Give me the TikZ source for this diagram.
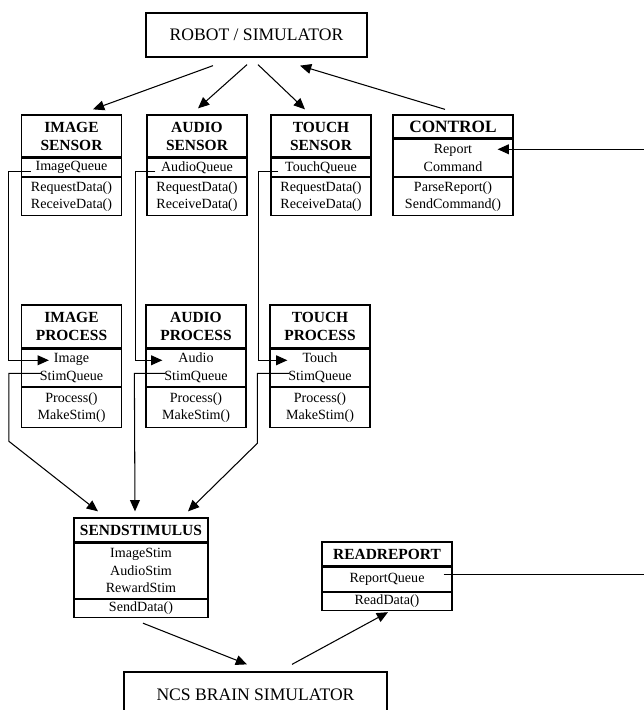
\documentclass[tikz,border=0pt]{standalone}
\usepackage{fontspec}
\setmainfont{Liberation Serif}
\usetikzlibrary{positioning,calc,arrows.meta}

\begin{document}
\begin{tikzpicture}[x=0.025cm,y=-0.025cm,
    box/.style={draw,line width=0.9pt,inner sep=0pt,align=center,font=\fontsize{10}{12.5}\selectfont},
    hd/.style={box,font=\bfseries\fontsize{11}{12.8}\selectfont},
    big/.style={draw,line width=0.9pt,inner sep=0pt,font=\fontsize{12.5}{15}\selectfont},
    ln/.style={line width=0.75pt},
    arr/.style={ln,-{Triangle[length=8pt,width=7pt]}}]
    \clip (0,0) rectangle (644,710);
    \node[big,minimum width=5.525cm,minimum height=1.1cm] (robot) at (256.5,35) {ROBOT / SIMULATOR};
    \node[big,minimum width=6.575cm,minimum height=1.15cm] (ncs) at (255.5,695) {NCS BRAIN SIMULATOR};
    % sensors
    \node[hd,minimum width=2.5cm,minimum height=1.05cm] (isT) at (71.5,136) {IMAGE\\SENSOR};
    \node[box,minimum width=2.5cm,minimum height=0.45cm,below=0pt of isT] (isQ) {ImageQueue};
    \node[box,minimum width=2.5cm,minimum height=0.95cm,below=0pt of isQ] (isM) {RequestData()\\ReceiveData()};
    \node[hd,minimum width=2.5cm,minimum height=1.05cm] (asT) at (197,136) {AUDIO\\SENSOR};
    \node[box,minimum width=2.5cm,minimum height=0.45cm,below=0pt of asT] (asQ) {AudioQueue};
    \node[box,minimum width=2.5cm,minimum height=0.95cm,below=0pt of asQ] (asM) {RequestData()\\ReceiveData()};
    \node[hd,minimum width=2.5cm,minimum height=1.05cm] (tsT) at (321,136) {TOUCH\\SENSOR};
    \node[box,minimum width=2.5cm,minimum height=0.45cm,below=0pt of tsT] (tsQ) {TouchQueue};
    \node[box,minimum width=2.5cm,minimum height=0.95cm,below=0pt of tsQ] (tsM) {RequestData()\\ReceiveData()};
    \node[hd,font=\bfseries\fontsize{12.3}{14}\selectfont,minimum width=3cm,minimum height=0.575cm] (ctT) at (453,126.5) {CONTROL};
    \node[box,minimum width=3cm,minimum height=0.925cm,below=0pt of ctT] (ctA) {Report\\Command};
    \node[box,minimum width=3cm,minimum height=0.95cm,below=0pt of ctA] (ctM) {ParseReport()\\SendCommand()};
    % processes
    \node[hd,minimum width=2.5cm,minimum height=1.075cm] (ipT) at (71.5,326.5) {IMAGE\\PROCESS};
    \node[box,minimum width=2.5cm,minimum height=0.925cm,below=0pt of ipT] (ipA) {Image\\StimQueue};
    \node[box,minimum width=2.5cm,minimum height=1cm,below=0pt of ipA] (ipM) {Process()\\MakeStim()};
    \node[hd,minimum width=2.5cm,minimum height=1.075cm] (apT) at (196,326.5) {AUDIO\\PROCESS};
    \node[box,minimum width=2.5cm,minimum height=0.925cm,below=0pt of apT] (apA) {Audio\\StimQueue};
    \node[box,minimum width=2.5cm,minimum height=1cm,below=0pt of apA] (apM) {Process()\\MakeStim()};
    \node[hd,minimum width=2.5cm,minimum height=1.075cm] (tpT) at (320,326.5) {TOUCH\\PROCESS};
    \node[box,minimum width=2.5cm,minimum height=0.925cm,below=0pt of tpT] (tpA) {Touch\\StimQueue};
    \node[box,minimum width=2.5cm,minimum height=1cm,below=0pt of tpA] (tpM) {Process()\\MakeStim()};
    % stimulus and report
    \node[hd,minimum width=3.35cm,minimum height=0.6cm] (ssT) at (141,530) {SENDSTIMULUS};
    \node[box,minimum width=3.35cm,minimum height=1.375cm,below=0pt of ssT] (ssA) {ImageStim\\AudioStim\\RewardStim};
    \node[box,minimum width=3.35cm,minimum height=0.45cm,below=0pt of ssA] (ssM) {SendData()};
    \node[hd,minimum width=3.25cm,minimum height=0.6cm] (rrT) at (387,554) {READREPORT};
    \node[box,minimum width=3.25cm,minimum height=0.6cm,below=0pt of rrT] (rrA) {ReportQueue};
    \node[box,minimum width=3.25cm,minimum height=0.45cm,below=0pt of rrA] (rrM) {ReadData()};
    % robot links
    \draw[arr] ($(robot.south)+(-43.5,8)$) -- ($(isT.north)+(21.5,-5)$);
    \draw[arr] ($(robot.south)+(-9.5,7)$) -- ($(asT.north)+(1,-6)$);
    \draw[arr] ($(robot.south)+(1.5,7)$) -- ($(tsT.north)+(-16,-5)$);
    \draw[arr] ($(ctT.north)+(-8,-5)$) -- ($(robot.south)+(43.5,8)$);
    % queues
    \draw[arr] ($(isQ.west)+(10,4)$) -- ++(-22,0) |- ($(ipA.west)+(28,-7.5)$);
    \draw[arr] ($(asQ.west)+(9,4)$) -- ++(-20,0) |- ($(apA.west)+(17,-7.5)$);
    \draw[arr] ($(tsQ.west)+(8,4)$) -- ++(-20,0) |- ($(tpA.west)+(18,-7.5)$);
    \draw[arr] ($(ipA.west)+(20,5.5)$) -- ++(-32,0) -- ++(0,68) -- ($(ssT.north)+(-43,-6)$);
    \draw[arr] ($(apA.west)+(20,5.5)$) -- ++(-31,0) -- ($(ssT.north)+(-6,-6)$);
    \draw[arr] ($(tpA.west)+(20,5.5)$) -- ++(-32,0) -- ++(0,70) -- ($(ssT.north)+(47,-6)$);
    \draw[arr] ($(rrA.east)+(-9,-5)$) -- ++(217,0) |- ($(ctA.east)+(-16,-8.5)$);
    % brain links
    \draw[arr] ($(ssM.south)+(2,5)$) -- ($(ncs.north)+(-8.5,-7)$);
    \draw[arr] ($(ncs.north)+(36.5,-7)$) -- ($(rrM.south)+(1,1)$);
\end{tikzpicture}
\end{document}
